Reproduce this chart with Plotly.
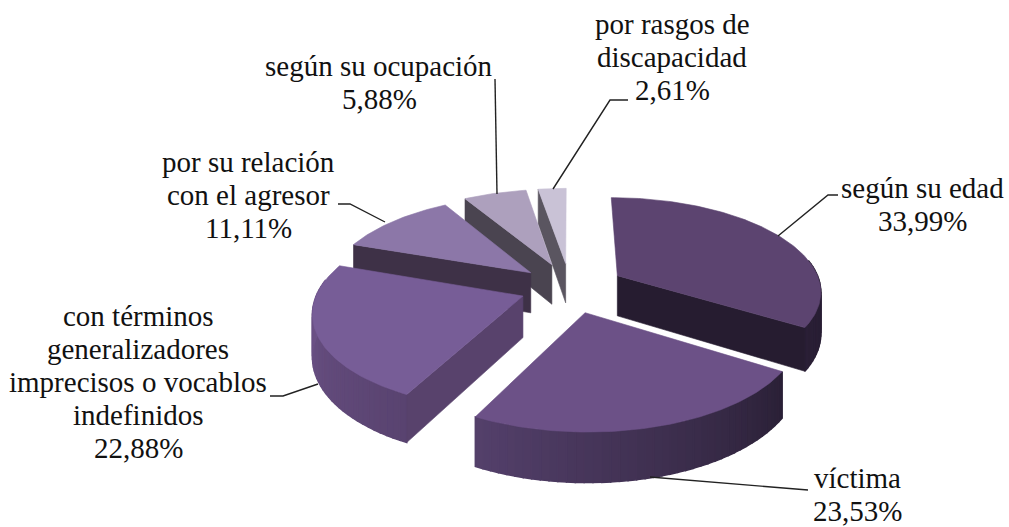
import math
import plotly.graph_objects as go

categories = ["según su edad", "víctima", "con términos<br>generalizadores<br>imprecisos o vocablos<br>indefinidos",
              "por su relación<br>con el agresor", "según su ocupación", "por rasgos de<br>discapacidad"]
values = [33.99, 23.53, 22.88, 11.11, 5.88, 2.61]
percent_text = ["33,99%", "23,53%", "22,88%", "11,11%", "5,88%", "2,61%"]
explode = [0.27, 0.27, 0.245, 0.255, 0.27, 0.27]
top_colors = ["#5c4470", "#6c5187", "#775d97", "#8c77a8", "#ada0bd", "#c9c2d6"]
wall_left = ["#2a1f36", "#54406b", "#6e5489", "#3e3147", "#4a4450", "#5a5560"]
wall_right = ["#241b2e", "#2a2036", "#594370", "#3e3147", "#4a4450", "#5a5560"]
face_colors = ["#261c30", "#2a2036", "#58426c", "#3e3147", "#4a4450", "#5a5560"]
label_xy = [(922, 188), (857, 478), (138, 316), (248, 162), (379, 66), (672, 24)]
leaders = [[(778, 236), (828, 195), (838, 195)],
           [(650, 477), (800, 490), (808, 490)],
           [(318, 384), (283, 396), (270, 396)],
           [(385, 222), (350, 204), (338, 204)],
           [(495, 79), (497, 194)],
           [(553, 189), (610, 100), (628, 100)]]

CX, CY, RX, RY, P, T = 570, 287.5, 204, 93, 0.15, 41
LINE_H = 33


def project(x, y):
    s = 1 / (1 + P * y)
    return CX + RX * x * s, CY - RY * y * s, T * s


def hexrgb(c):
    return [int(c[i:i + 2], 16) for i in (1, 3, 5)]


def mix(a, b, t):
    ca, cb = hexrgb(a), hexrgb(b)
    return "rgb(%d,%d,%d)" % tuple(round(u + (v - u) * t) for u, v in zip(ca, cb))


fig = go.Figure()


def poly(xs, ys, color, w=0.6):
    fig.add_trace(go.Scatter(x=xs + xs[:1], y=ys + ys[:1], mode="lines", fill="toself",
                             fillcolor=color, line=dict(color=color, width=w),
                             hoverinfo="skip", showlegend=False))


total = sum(values)
spans = []
acc = 0.0
for v in values:
    spans.append((acc, acc + v / total * 360))
    acc += v / total * 360


def point(i, theta, r=1.0):
    a, b = spans[i]
    m = math.radians((a + b) / 2)
    t = math.radians(theta)
    e = explode[i]
    return project(r * math.sin(t) + e * math.sin(m), r * math.cos(t) + e * math.cos(m))


def draw_slice(i):
    a, b = spans[i]
    lo, hi = max(a, 80), min(b, 280)
    if hi > lo:
        n = max(2, int((hi - lo) / 2))
        for k in range(n):
            t0 = lo + (hi - lo) * k / n
            t1 = lo + (hi - lo) * (k + 1) / n
            p0, p1 = point(i, t0), point(i, t1)
            poly([p0[0], p1[0], p1[0], p0[0]], [p0[1], p1[1], p1[1] + p1[2], p0[1] + p0[2]],
                 mix(wall_right[i], wall_left[i], (k + .5) / n), 1.5)
    apex = point(i, 0, 0)
    for th, visible in ((a, math.sin(math.radians(a)) < 0), (b, math.sin(math.radians(b)) > 0)):
        if visible:
            c = point(i, th)
            poly([apex[0], c[0], c[0], apex[0]], [apex[1], c[1], c[1] + c[2], apex[1] + apex[2]], face_colors[i])
    n = max(4, int(b - a))
    pts = [point(i, a + (b - a) * k / n) for k in range(n + 1)]
    poly([apex[0]] + [p[0] for p in pts], [apex[1]] + [p[1] for p in pts], top_colors[i])


for i in [5, 4, 3, 0, 2, 1]:
    draw_slice(i)

for pts in leaders:
    fig.add_trace(go.Scatter(x=[p[0] for p in pts], y=[p[1] for p in pts], mode="lines",
                             line=dict(color="#222222", width=1.4), hoverinfo="skip", showlegend=False))

for name, pct, (x, y) in zip(categories, percent_text, label_xy):
    for k, txt in enumerate(name.split("<br>") + [pct]):
        fig.add_annotation(x=x, y=y + k * LINE_H, text=txt, showarrow=False, xanchor="center", yanchor="middle",
                           font=dict(family="Liberation Serif", size=29, color="#111111"))

fig.update_layout(width=1009, height=527, margin=dict(l=0, r=0, t=0, b=0), paper_bgcolor="white",
                  plot_bgcolor="white",
                  xaxis=dict(range=[0, 1009], visible=False, fixedrange=True),
                  yaxis=dict(range=[527, 0], visible=False, fixedrange=True))
fig.write_html("out.html", config={"displayModeBar": False},
               post_script="document.body.style.margin='0';document.documentElement.style.overflow='hidden';")
